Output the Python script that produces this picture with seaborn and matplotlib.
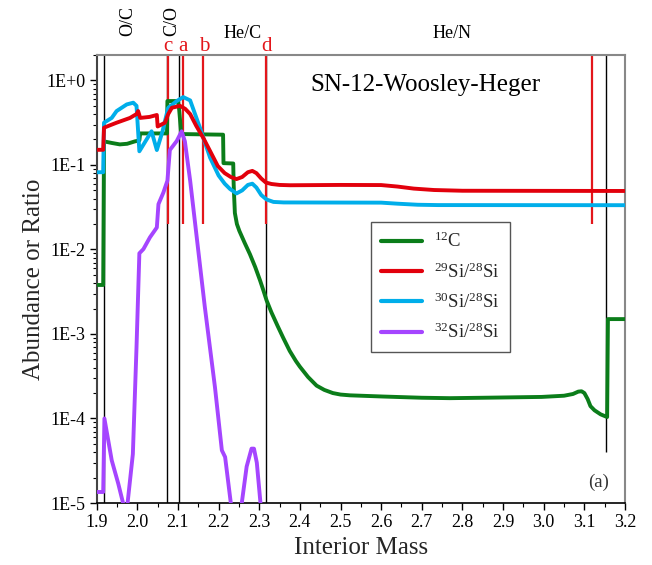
import numpy as np
import pandas as pd
import matplotlib
matplotlib.use('Agg')
import matplotlib.pyplot as plt
import seaborn as sns
from matplotlib.ticker import LogLocator, FuncFormatter, MultipleLocator, NullFormatter
from matplotlib.lines import Line2D

sns.set_theme(style='ticks')
plt.rcParams['font.family'] = ['Liberation Serif', 'DejaVu Serif']
plt.rcParams['mathtext.fontset'] = 'custom'
plt.rcParams['mathtext.rm'] = 'Liberation Serif'
plt.rcParams['mathtext.it'] = 'Liberation Serif:italic'
plt.rcParams['mathtext.bf'] = 'Liberation Serif:bold'

# ---------------- data ----------------
c12_x = [1.900, 1.916, 1.918, 1.937, 1.957, 1.975, 1.994, 2.005, 2.007, 2.073, 2.074, 2.100,
         2.103, 2.108, 2.211, 2.212, 2.236, 2.237, 2.238, 2.240, 2.245, 2.251, 2.264, 2.277,
         2.290, 2.302, 2.310, 2.318, 2.330, 2.345, 2.359, 2.375, 2.390, 2.400, 2.420, 2.441,
         2.460, 2.481, 2.500, 2.523, 2.604, 2.700, 2.769, 2.851, 2.995, 3.050, 3.072, 3.085,
         3.093, 3.100, 3.108, 3.115, 3.125, 3.140, 3.156, 3.158, 3.200]
c12_y = [0.0038, 0.0038, 0.19, 0.182, 0.175, 0.178, 0.19, 0.195, 0.236, 0.236, 0.57, 0.57,
         0.45, 0.232, 0.228, 0.105, 0.104, 0.06, 0.045, 0.027, 0.020, 0.0166, 0.012, 0.0088,
         0.0062, 0.0043, 0.0033, 0.0025, 0.0018, 0.00125, 0.0009, 0.00063, 0.00048, 0.00041, 0.00031, 0.000245,
         0.000218, 0.0002, 0.000192, 0.000188, 0.000182, 0.000176, 0.000174, 0.000176, 0.00018, 0.000186, 0.000195, 0.000208,
         0.00021, 0.0002, 0.00017, 0.00014, 0.000125, 0.000112, 0.000104, 0.0015, 0.0015]

si29_x = [1.900, 1.916, 1.918, 1.937, 1.949, 1.982, 1.998, 2.002, 2.007, 2.030, 2.048, 2.050,
          2.068, 2.076, 2.085, 2.105, 2.118, 2.130, 2.145, 2.162, 2.179, 2.198, 2.215, 2.230,
          2.244, 2.258, 2.272, 2.283, 2.293, 2.305, 2.316, 2.330, 2.350, 2.376, 2.500, 2.600,
          2.640, 2.680, 2.730, 2.800, 3.200]
si29_y = [0.151, 0.151, 0.276, 0.30, 0.316, 0.36, 0.40, 0.434, 0.36, 0.37, 0.39, 0.285,
          0.316, 0.40, 0.475, 0.50, 0.46, 0.40, 0.29, 0.21, 0.146, 0.097, 0.080, 0.072,
          0.068, 0.072, 0.082, 0.085, 0.080, 0.069, 0.062, 0.0595, 0.058, 0.0575, 0.058, 0.0578,
          0.0555, 0.0525, 0.0505, 0.0495, 0.0492]

si30_x = [1.900, 1.916, 1.918, 1.937, 1.949, 1.974, 1.990, 1.998, 2.005, 2.035, 2.048, 2.062,
          2.068, 2.076, 2.097, 2.113, 2.130, 2.154, 2.179, 2.200, 2.215, 2.228, 2.244, 2.258,
          2.272, 2.283, 2.293, 2.305, 2.318, 2.335, 2.360, 2.600, 2.640, 2.690, 2.740, 3.200]
si30_y = [0.082, 0.082, 0.316, 0.36, 0.434, 0.52, 0.545, 0.50, 0.145, 0.25, 0.15, 0.25,
          0.33, 0.475, 0.57, 0.635, 0.58, 0.276, 0.122, 0.075, 0.06, 0.052, 0.046, 0.050,
          0.058, 0.060, 0.054, 0.044, 0.039, 0.0365, 0.036, 0.0358, 0.0348, 0.0338, 0.0335, 0.0334]

si32_x = [1.900, 1.916, 1.919, 1.937, 1.953, 1.966, 1.970, 1.976, 1.989, 1.998, 2.005, 2.015,
          2.031, 2.048, 2.052, 2.064, 2.074, 2.080, 2.097, 2.109, 2.117, 2.130, 2.166, 2.191,
          2.208, 2.216, 2.230, 2.243, 2.257, 2.269, 2.281, 2.287, 2.294, 2.303, 2.310]
si32_y = [1.35e-5, 1.35e-5, 1.0e-4, 3.2e-5, 1.7e-5, 9.5e-6, 7e-6, 1.0e-5, 3.8e-5, 7e-4, 0.009, 0.0101,
          0.0139, 0.0182, 0.0344, 0.047, 0.065, 0.15, 0.192, 0.25, 0.19, 0.065, 0.0021, 2.35e-4,
          4.2e-5, 3.5e-5, 1.0e-5, 5e-6, 1.0e-5, 2.7e-5, 4.4e-5, 4.4e-5, 3.0e-5, 1.0e-5, 6e-6]

series_labels = [r'$^{12}$C', r'$^{29}$Si/$^{28}$Si', r'$^{30}$Si/$^{28}$Si', r'$^{32}$Si/$^{28}$Si']
series_colors = ['#0b7d1a', '#e2000c', '#00aeea', '#a545ff']

black_lines = [1.919, 2.074, 2.103, 2.316]
black_line_short = 3.153
red_lines = [2.075, 2.112, 2.162, 2.316, 3.120]
red_letters = ['c', 'a', 'b', 'd']
red_letter_x = [2.075, 2.112, 2.164, 2.317]
zone_labels_rot = ['O/C', 'C/O']
zone_rot_x = [1.977, 2.085]
zone_labels = ['He/C', 'He/N']
zone_x = [2.26, 2.774]
xticks = [1.9, 2.0, 2.1, 2.2, 2.3, 2.4, 2.5, 2.6, 2.7, 2.8, 2.9, 3.0, 3.1, 3.2]

# ---------------- figure ----------------
fig = plt.figure(figsize=(6.52, 5.65), dpi=100)
ax = fig.add_axes([0.1483, 0.1097, 0.8103, 0.793])
ax.set_yscale('log')
ax.set_xlim(1.9, 3.2)
ax.set_ylim(1e-5, 2.0)

# vertical marker lines
ax.vlines(black_lines, 1e-5, 2.0, colors='black', lw=1.0, zorder=1.5)
ax.vlines([black_line_short], 4e-5, 2.0, colors='black', lw=1.0, zorder=1.5)
ax.vlines(red_lines, 0.02, 2.0, colors='#e3161b', lw=1.6, zorder=1.6)

lw = 2.8
data = [(c12_x, c12_y), (si29_x, si29_y), (si30_x, si30_y), (si32_x, si32_y)]
order = [0, 2, 3, 1]
for i in order:
    xs, ys = data[i]
    df = pd.DataFrame({'m': xs, 'v': ys})
    sns.lineplot(data=df, x='m', y='v', ax=ax, color=series_colors[i], lw=lw,
                 sort=False, estimator=None, legend=False, zorder=3)
for ln in ax.get_lines():
    ln.set_solid_joinstyle('round')
    ln.set_solid_capstyle('butt')

handles = [Line2D([0], [0], color=c, lw=3.0) for c in series_colors]
leg = ax.legend(handles, series_labels, loc='upper left', bbox_to_anchor=(0.5187, 0.628),
                borderaxespad=0, fontsize=13.5, frameon=True, fancybox=False, framealpha=1,
                edgecolor='#555555', handlelength=2.2, handletextpad=0.65, labelspacing=0.58,
                borderpad=0.55)
leg.get_frame().set_linewidth(1.0)

# ticks
ax.set_xticks(xticks)
ax.xaxis.set_minor_locator(MultipleLocator(0.05))
ax.xaxis.set_major_formatter(FuncFormatter(lambda v, p: f'{v:.1f}'))
ax.yaxis.set_major_locator(LogLocator(base=10, numticks=12))
ax.yaxis.set_minor_locator(LogLocator(base=10, subs=np.arange(2, 10), numticks=12))
ax.yaxis.set_minor_formatter(NullFormatter())
ax.yaxis.set_major_formatter(FuncFormatter(lambda v, p: f'1E{int(round(np.log10(v))):+d}'))
ax.tick_params(axis='both', which='major', direction='out', length=5, width=1.0,
               colors='black', labelsize=13, pad=3)
ax.tick_params(axis='both', which='minor', direction='out', length=3, width=0.8, colors='black')

for s in ['top', 'right']:
    ax.spines[s].set_color('#888888')
    ax.spines[s].set_linewidth(1.5)
ax.spines['left'].set_color('#444444')
ax.spines['left'].set_linewidth(1.5)
ax.spines['bottom'].set_color('black')
ax.spines['bottom'].set_linewidth(1.2)

ax.set_xlabel('Interior Mass', fontsize=18, labelpad=4)
ax.set_ylabel('Abundance or Ratio', fontsize=18, labelpad=1)

# annotations
trans = ax.get_xaxis_transform()
for lab, x in zip(zone_labels_rot, zone_rot_x):
    ax.text(x, 1.075, lab, transform=trans, rotation=90, ha='center', va='center',
            fontsize=13, color='black', clip_on=False)
for lab, x in zip(zone_labels, zone_x):
    ax.text(x, 1.038, lab, transform=trans, ha='center', va='baseline',
            fontsize=13, color='black', clip_on=False)
for lab, x in zip(red_letters, red_letter_x):
    ax.text(x, 1.008, lab, transform=trans, ha='center', va='baseline',
            fontsize=15, color='#e3161b', clip_on=False)

ax.text(0.623, 0.933, 'SN-12-Woosley-Heger', transform=ax.transAxes, ha='center', va='center',
        fontsize=18, color='black')
ax.text(0.949, 0.047, '(a)', transform=ax.transAxes, ha='center', va='center',
        fontsize=13.5, color='#333333')

fig.savefig('out.png', dpi=100)
